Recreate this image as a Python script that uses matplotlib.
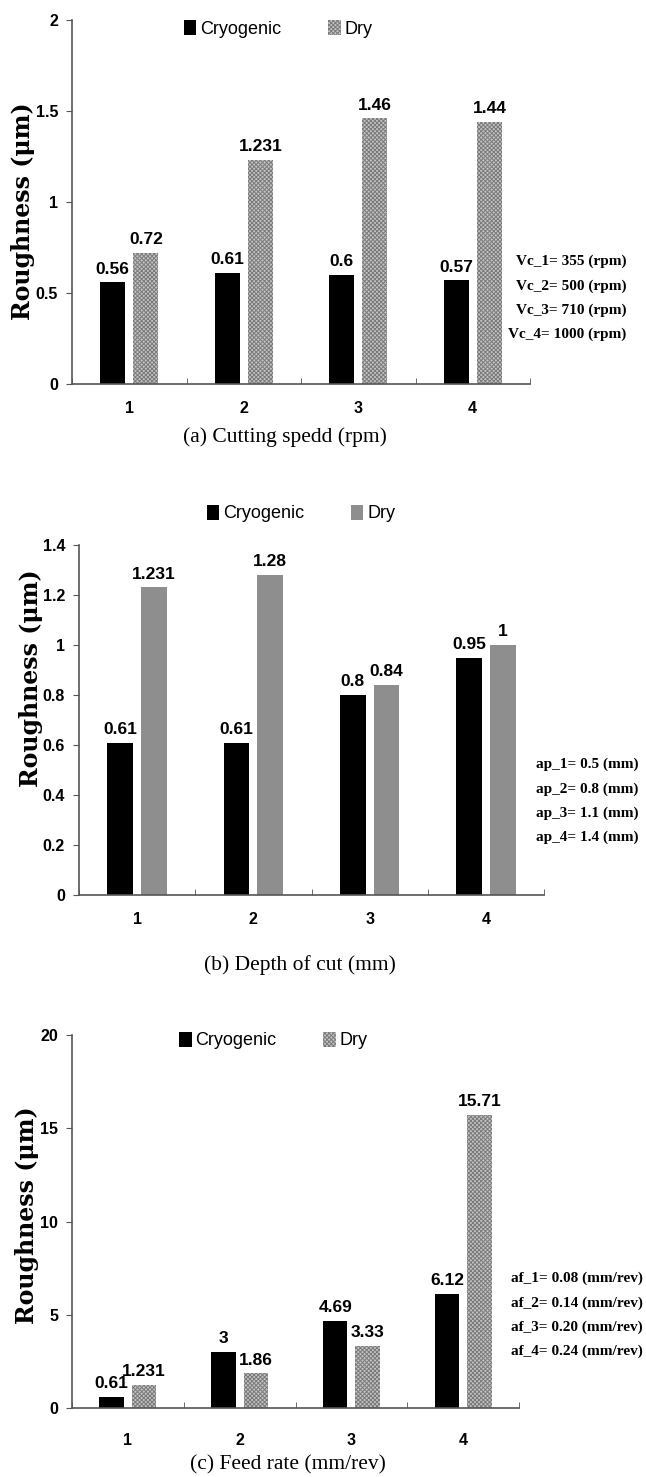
import matplotlib
matplotlib.use("Agg")
import matplotlib.pyplot as plt
import numpy as np

# ── data ─────────────────────────────────────────────────────
cats = [1, 2, 3, 4]
series = ["Cryogenic", "Dry"]

speed_cryo = [0.56, 0.61, 0.6, 0.57]
speed_dry  = [0.72, 1.231, 1.46, 1.44]
depth_cryo = [0.61, 0.61, 0.8, 0.95]
depth_dry  = [1.231, 1.28, 0.84, 1.0]
feed_cryo  = [0.61, 3, 4.69, 6.12]
feed_dry   = [1.231, 1.86, 3.33, 15.71]

speed_ticks = [0, 0.5, 1, 1.5, 2]
depth_ticks = [0, 0.2, 0.4, 0.6, 0.8, 1, 1.2, 1.4]
feed_ticks  = [0, 5, 10, 15, 20]

speed_notes = ["Vc_1= 355 (rpm)", "Vc_2= 500 (rpm)", "Vc_3= 710 (rpm)", "Vc_4= 1000 (rpm)"]
depth_notes = ["ap_1= 0.5 (mm)", "ap_2= 0.8 (mm)", "ap_3= 1.1 (mm)", "ap_4= 1.4 (mm)"]
feed_notes  = ["af_1= 0.08 (mm/rev)", "af_2= 0.14 (mm/rev)", "af_3= 0.20 (mm/rev)", "af_4= 0.24 (mm/rev)"]

titles = ["(a) Cutting spedd (rpm)", "(b) Depth of cut (mm)", "(c) Feed rate (mm/rev)"]
ylabel = "Roughness (\u03bcm)"

# ── fonts ────────────────────────────────────────────────────
NARROW = ["Liberation Sans", "DejaVu Sans"]
SERIF  = ["Liberation Serif", "DejaVu Serif"]

plt.rcParams["hatch.linewidth"] = 0.7

W, H = 646, 1477
fig = plt.figure(figsize=(W / 100, H / 100), dpi=100)

hatched = dict(facecolor="#c4c4c4", edgecolor="#7a7a7a", hatch="xxxxxxxx", linewidth=0)
solid   = dict(facecolor="#8e8e8e", edgecolor="#8e8e8e", linewidth=0)


def px(x, y):
    return x / W, 1 - y / H


def panel(rect, cryo, dry, ticks, notes, note_px, title, title_px,
          ylab_px, leg_anchor, xpad, dry_style):
    l, t, r, b = rect
    x0, y0 = px(l, b)
    x1, y1 = px(r, t)
    ax = fig.add_axes([x0, y0, x1 - x0, y1 - y0])

    x = np.array(cats)
    off, bw = 0.145, 0.22
    ax.bar(x - off, cryo, bw, color="black", label=series[0], zorder=2)
    ax.bar(x + off, dry, bw, label=series[1], zorder=2, **dry_style)

    for xs, vals in [(x - off, cryo), (x + off, dry)]:
        for xi, v in zip(xs, vals):
            ax.annotate(f"{v:g}", (xi, v), xytext=(0, 4), textcoords="offset points",
                        ha="center", va="bottom", fontsize=12.5,
                        fontweight="bold", family=NARROW)

    ax.set_xlim(0.5, 4.5)
    ax.set_ylim(ticks[0], ticks[-1])
    ax.set_yticks(ticks)
    ax.set_yticklabels([f"{v:g}" for v in ticks])
    ax.set_xticks(cats)
    ax.set_xticks([0.5, 1.5, 2.5, 3.5, 4.5], minor=True)
    ax.tick_params(axis="x", which="major", length=0, pad=xpad)
    ax.tick_params(axis="x", which="minor", direction="in", length=4,
                   color="#555555")
    ax.tick_params(axis="y", length=4, color="#555555", pad=6)
    for lab in ax.get_xticklabels() + ax.get_yticklabels():
        lab.set_family(NARROW)
        lab.set_fontweight("bold")
        lab.set_fontsize(11.5)

    for s in ["top", "right"]:
        ax.spines[s].set_visible(False)
    for s in ["left", "bottom"]:
        ax.spines[s].set_color("#555555")
        ax.spines[s].set_linewidth(1.2)

    ax.legend(loc="center", bbox_to_anchor=leg_anchor, ncol=2, frameon=False,
              handlelength=0.7, handleheight=0.9, handletextpad=0.2,
              columnspacing=2.6, prop={"family": NARROW, "size": 13})

    nx, ny = px(*note_px)
    fig.text(nx, ny, "\n".join(notes), ha="right", va="center",
             multialignment="right", linespacing=2.05, fontsize=11,
             fontweight="bold", family=SERIF)

    tx, ty = px(*title_px)
    fig.text(tx, ty, title, ha="center", va="center", fontsize=15.5,
             family=SERIF)

    lx, ly = px(*ylab_px)
    fig.text(lx, ly, ylabel, ha="center", va="center", rotation=90,
             fontsize=17, fontweight="bold", family=["DejaVu Serif"])
    return ax


panel((72, 20, 530, 384), speed_cryo, speed_dry, speed_ticks, speed_notes,
      (626, 298), titles[0], (285, 437), (23, 211), (0.45, 0.975), 12, hatched)
panel((79, 545, 544, 895), depth_cryo, depth_dry, depth_ticks, depth_notes,
      (638, 801), titles[1], (300, 965), (31, 678), (0.477, 1.09), 12, solid)
panel((72, 1035, 519, 1408), feed_cryo, feed_dry, feed_ticks, feed_notes,
      (643, 1315), titles[2], (288, 1465), (27, 1215), (0.45, 0.985), 18, hatched)

fig.savefig("out.png", dpi=100, facecolor="white")
